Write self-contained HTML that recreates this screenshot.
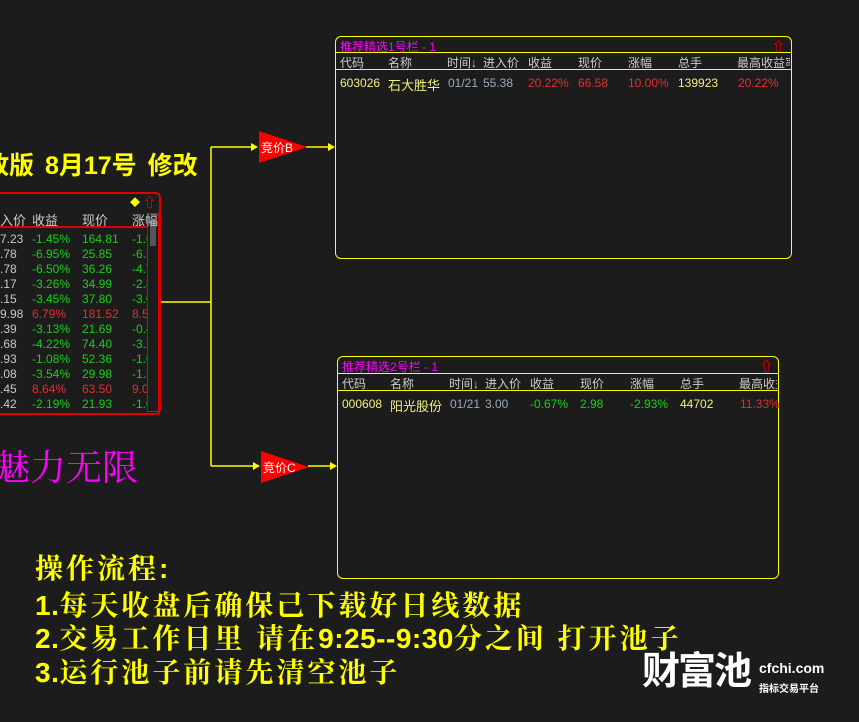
<!DOCTYPE html>
<html><head><meta charset="utf-8"><style>
*{margin:0;padding:0;box-sizing:border-box}
body{width:859px;height:722px;background:#1c1c1c;position:relative;overflow:hidden;font-family:"Liberation Sans","Noto Sans CJK SC",sans-serif}
.a{position:absolute;white-space:nowrap}
.p{position:absolute;border:1px solid #ffff00;border-radius:6px}
.t{font-size:12px;color:#ddd}
.g{color:#18d018}.r{color:#e03030}.y{color:#f0f080}.w{color:#c8c8c8}.b{color:#9ab}
.big{font-family:"Liberation Sans","Noto Serif CJK SC",serif;font-weight:bold;color:#ffff00;font-size:28px;letter-spacing:3px}
.big b{letter-spacing:0.5px}
</style></head><body>

<div class="a" style="left:-16px;top:146px;font-size:25px;font-weight:bold;color:#ffff00;word-spacing:4px">放版 8月17号 修改</div>

<!-- left panel -->
<div class="a" style="left:-10px;top:192px;width:171px;height:223px;border:2px solid #e00000;border-radius:6px"></div>
<div class="a" style="left:-10px;top:226px;width:158px;height:2px;background:#e00000"></div>
<div class="a" style="left:147px;top:213px;width:12px;height:199px;border:1px solid #e00000"></div>
<div class="a" style="left:150px;top:220px;width:6px;height:26px;background:#555"></div>
<div class="a" style="left:130px;top:194px;color:#ffff00;font-size:10px">◆</div>
<div class="a" style="left:143px;top:192px;color:#f00;font-size:13px;font-weight:bold">⇧</div>
<div class="a t" style="left:0;top:210px;font-size:13px;color:#ccc">入价<span style="position:absolute;left:32px">收益</span><span style="position:absolute;left:82px">现价</span><span style="position:absolute;left:132px">涨幅</span></div>
<div class="a t" style="left:0;top:232px;line-height:15px;font-size:12px">
<div class="w">7.23</div><div class="w">.78</div><div class="w">.78</div><div class="w">.17</div><div class="w">.15</div><div class="w">9.98</div><div class="w">.39</div><div class="w">.68</div><div class="w">.93</div><div class="w">.08</div><div class="w">.45</div><div class="w">.42</div></div>
<div class="a t" style="left:32px;top:232px;line-height:15px">
<div class="g">-1.45%</div><div class="g">-6.95%</div><div class="g">-6.50%</div><div class="g">-3.26%</div><div class="g">-3.45%</div><div class="r">6.79%</div><div class="g">-3.13%</div><div class="g">-4.22%</div><div class="g">-1.08%</div><div class="g">-3.54%</div><div class="r">8.64%</div><div class="g">-2.19%</div></div>
<div class="a t" style="left:82px;top:232px;line-height:15px">
<div class="g">164.81</div><div class="g">25.85</div><div class="g">36.26</div><div class="g">34.99</div><div class="g">37.80</div><div class="r">181.52</div><div class="g">21.69</div><div class="g">74.40</div><div class="g">52.36</div><div class="g">29.98</div><div class="r">63.50</div><div class="g">21.93</div></div>
<div class="a t" style="left:132px;top:232px;line-height:15px;width:15px;overflow:hidden">
<div class="g">-1.0</div><div class="g">-6.3</div><div class="g">-4.7</div><div class="g">-2.8</div><div class="g">-3.0</div><div class="r">8.5</div><div class="g">-0.4</div><div class="g">-3.2</div><div class="g">-1.0</div><div class="g">-1.3</div><div class="r">9.0</div><div class="g">-1.0</div></div>

<div class="a" style="left:-6px;top:440px;font-size:36px;color:#ff00ff;font-family:'Liberation Serif','Noto Serif CJK SC',serif">魅力无限</div>

<!-- connectors -->
<svg class="a" style="left:0;top:0" width="859" height="722">
<g stroke="#ffff00" stroke-width="1.5" fill="none">
<polyline points="161,302 211,302"/>
<polyline points="211,147 211,466"/>
<polyline points="211,147 256,147"/>
<polyline points="211,466 258,466"/>
<polyline points="306,147 333,147"/>
<polyline points="308,466 335,466"/>
</g>
<g fill="#ffff00">
<polygon points="251,143 258,147 251,151"/>
<polygon points="253,462 260,466 253,470"/>
<polygon points="328,143 335,147 328,151"/>
<polygon points="330,462 337,466 330,470"/>
</g>
<polygon points="259,131 259,163 307,147" fill="#ff0000"/>
<polygon points="261,451 261,483 309,467" fill="#ff0000"/>
<text x="261" y="152" fill="#fff" font-size="12" font-family="Liberation Sans,Noto Sans CJK SC,sans-serif">竞价B</text>
<text x="263" y="472" fill="#fff" font-size="12" font-family="Liberation Sans,Noto Sans CJK SC,sans-serif">竞价C</text>
</svg>

<!-- panel 1 -->
<div class="p" style="left:335px;top:36px;width:457px;height:223px"></div>
<div class="a" style="left:335px;top:52px;width:457px;height:1px;background:#ffff00"></div>
<div class="a" style="left:335px;top:69px;width:457px;height:1px;background:#ffff00"></div>
<div class="a" style="left:340px;top:38px;font-size:12px;color:#ff00ff">推荐精选1号栏 - 1</div>
<div class="a" style="left:772px;top:36px;color:#f00;font-size:13px;font-weight:bold">⇧</div>
<div class="a t" style="left:340px;top:54px;font-size:12px;color:#ccc;width:450px;overflow:hidden;height:15px">
<span class="a" style="left:0">代码</span><span class="a" style="left:48px">名称</span><span class="a" style="left:107px">时间↓</span><span class="a" style="left:143px">进入价</span><span class="a" style="left:188px">收益</span><span class="a" style="left:238px">现价</span><span class="a" style="left:288px">涨幅</span><span class="a" style="left:338px">总手</span><span class="a" style="left:397px">最高收益率</span></div>
<div class="a t" style="left:340px;top:76px;width:450px;height:16px">
<span class="a y" style="left:0">603026</span><span class="a y" style="left:48px;font-size:13px;top:-1px">石大胜华</span><span class="a b" style="left:108px">01/21</span><span class="a b" style="left:143px">55.38</span><span class="a r" style="left:188px">20.22%</span><span class="a r" style="left:238px">66.58</span><span class="a r" style="left:288px">10.00%</span><span class="a y" style="left:338px">139923</span><span class="a r" style="left:398px">20.22%</span></div>

<!-- panel 2 -->
<div class="p" style="left:337px;top:356px;width:442px;height:223px"></div>
<div class="a" style="left:337px;top:373px;width:442px;height:1px;background:#ffff00"></div>
<div class="a" style="left:337px;top:390px;width:442px;height:1px;background:#ffff00"></div>
<div class="a" style="left:342px;top:358px;font-size:12px;color:#ff00ff">推荐精选2号栏 - 1</div>
<div class="a" style="left:760px;top:356px;color:#f00;font-size:13px;font-weight:bold">⇧</div>
<div class="a t" style="left:342px;top:375px;font-size:12px;color:#ccc;width:435px;overflow:hidden;height:15px">
<span class="a" style="left:0">代码</span><span class="a" style="left:48px">名称</span><span class="a" style="left:107px">时间↓</span><span class="a" style="left:143px">进入价</span><span class="a" style="left:188px">收益</span><span class="a" style="left:238px">现价</span><span class="a" style="left:288px">涨幅</span><span class="a" style="left:338px">总手</span><span class="a" style="left:397px">最高收益率</span></div>
<div class="a t" style="left:342px;top:397px;width:435px;height:16px">
<span class="a y" style="left:0">000608</span><span class="a y" style="left:48px;font-size:13px;top:-1px">阳光股份</span><span class="a b" style="left:108px">01/21</span><span class="a b" style="left:143px">3.00</span><span class="a g" style="left:188px">-0.67%</span><span class="a g" style="left:238px">2.98</span><span class="a g" style="left:288px">-2.93%</span><span class="a y" style="left:338px">44702</span><span class="a r" style="left:398px">11.33%</span></div>

<!-- bottom text -->
<div class="a big" style="left:35px;top:547px">操作流程:</div>
<div class="a big" style="left:35px;top:584px"><b>1.</b>每天收盘后确保己下载好日线数据</div>
<div class="a big" style="left:35px;top:617px"><b>2.</b>交易工作日里 请在<b>9:25--9:30</b>分之间 打开池子</div>
<div class="a big" style="left:35px;top:651px"><b>3.</b>运行池子前请先清空池子</div>

<!-- logo -->
<div class="a" style="left:642px;top:651px;font-size:38px;font-weight:bold;color:#fff;letter-spacing:-2px;line-height:42px">财富池</div>
<div class="a" style="left:759px;top:660px;font-size:14px;font-weight:bold;color:#fff">cfchi.com</div>
<div class="a" style="left:759px;top:680px;font-size:10px;font-weight:bold;color:#fff">指标交易平台</div>
</body></html>
